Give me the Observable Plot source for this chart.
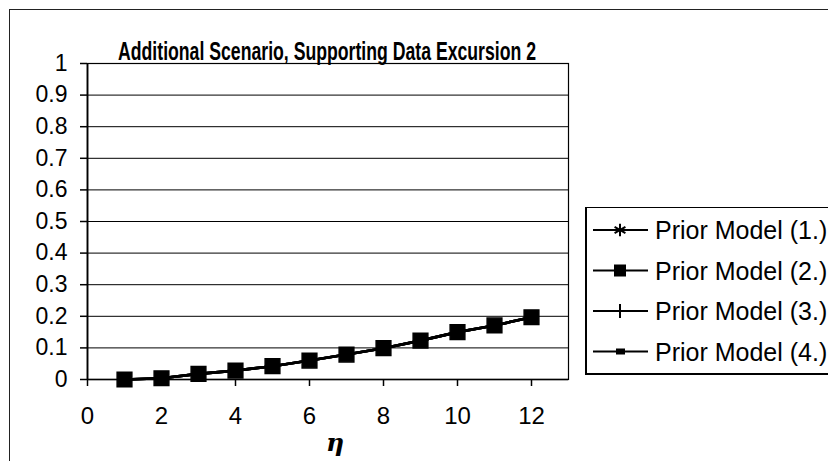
<!DOCTYPE html>
<html>
<head>
<meta charset="utf-8">
<script src="https://cdn.jsdelivr.net/npm/d3@7"></script>
<script src="https://cdn.jsdelivr.net/npm/@observablehq/plot@0.6"></script>
<style>
  html, body { margin: 0; padding: 0; background: #fff; overflow: hidden; }
  #wrap { position: relative; width: 828px; height: 461px; overflow: hidden; font-family: "Liberation Sans", Arial, sans-serif; }
  #outer { position: absolute; left: 9px; top: 9px; width: 840px; height: 470px; border: 1px solid #222; box-sizing: border-box; }
  #legend { position: absolute; left: 585px; top: 207px; width: 260px; height: 168px; border: 1px solid #000; border-left-width: 2px; border-bottom-width: 2px; box-sizing: border-box; background: #fff; }
  #legend svg { display: block; }
</style>
</head>
<body>
<div id="wrap">
  <div id="outer"></div>
  <div id="chart"></div>
  <div id="legend"></div>
</div>
<script>
// ---- data ----
const eta = [1, 2, 3, 4, 5, 6, 7, 8, 9, 10, 11, 12];
const model1 = [0.000, 0.004, 0.018, 0.028, 0.042, 0.060, 0.079, 0.099, 0.123, 0.150, 0.171, 0.197];
const model2 = [0.000, 0.004, 0.018, 0.028, 0.042, 0.060, 0.079, 0.099, 0.123, 0.150, 0.171, 0.197];
const model3 = [0.000, 0.004, 0.018, 0.028, 0.042, 0.060, 0.079, 0.099, 0.123, 0.150, 0.171, 0.197];
const model4 = [0.000, 0.004, 0.018, 0.028, 0.042, 0.060, 0.079, 0.099, 0.123, 0.150, 0.171, 0.197];
const seriesNames = ["Prior Model (1.)", "Prior Model (2.)", "Prior Model (3.)", "Prior Model (4.)"];
const xTicks = [0, 2, 4, 6, 8, 10, 12];
const yTicks = [0, 0.1, 0.2, 0.3, 0.4, 0.5, 0.6, 0.7, 0.8, 0.9, 1];
const yTickLabels = ["0", "0.1", "0.2", "0.3", "0.4", "0.5", "0.6", "0.7", "0.8", "0.9", "1"];
const titleText = "Additional Scenario, Supporting Data Excursion 2";
const xLabel = "η";

const allSeries = [model1, model2, model3, model4];
const rows = [];
allSeries.forEach((vals, i) => vals.forEach((v, j) => rows.push({series: seriesNames[i], eta: eta[j], value: v})));
const rowsOf = name => rows.filter(r => r.series === name);

const font = "Liberation Sans, Arial, sans-serif";
const yFmt = d => yTickLabels[yTicks.findIndex(t => Math.abs(t - d) < 1e-9)];

const chart = Plot.plot({
  width: 828,
  height: 461,
  marginLeft: 87,
  marginRight: 260,
  marginTop: 63,
  marginBottom: 82,
  style: {fontFamily: font, fontSize: "23px", color: "#000", background: "transparent", overflow: "visible"},
  x: {domain: [0, 13], label: null},
  y: {domain: [0, 1], label: null},
  marks: [
    Plot.ruleY(yTicks.filter(t => t > 0 && t < 1), {stroke: "#000", strokeWidth: 1}),
    Plot.frame({stroke: "#000", strokeWidth: 1.2}),
    Plot.axisX({ticks: xTicks, tickSize: 7, tickPadding: 20, label: null, stroke: "#000", fill: "#000", fontSize: 24, tickFormat: d => String(d), strokeWidth: 1.5}),
    Plot.axisY({ticks: yTicks, tickSize: 7, tickPadding: 13, label: null, stroke: "#000", fill: "#000", fontSize: 23, tickFormat: yFmt, strokeWidth: 1.5}),
    Plot.ruleY([0], {stroke: "#000", strokeWidth: 1.5}),
    Plot.ruleX([0], {stroke: "#000", strokeWidth: 1.8}),
    Plot.line(rowsOf(seriesNames[0]), {x: "eta", y: "value", stroke: "#000", strokeWidth: 2.7}),
    Plot.line(rowsOf(seriesNames[2]), {x: "eta", y: "value", stroke: "#000", strokeWidth: 2.7}),
    Plot.line(rowsOf(seriesNames[3]), {x: "eta", y: "value", stroke: "#000", strokeWidth: 2.7}),
    Plot.line(rowsOf(seriesNames[1]), {x: "eta", y: "value", stroke: "#000", strokeWidth: 2.7}),
    Plot.dot(rowsOf(seriesNames[0]), {x: "eta", y: "value", symbol: "asterisk", r: 4, stroke: "#000"}),
    Plot.dot(rowsOf(seriesNames[2]), {x: "eta", y: "value", symbol: "plus", r: 4, stroke: "#000"}),
    Plot.dot(rowsOf(seriesNames[3]), {x: "eta", y: "value", symbol: "square", r: 2.5, fill: "#000"}),
    Plot.dot(rowsOf(seriesNames[1]), {x: "eta", y: "value", symbol: "square", r: 8.3, fill: "#000", stroke: "#000"}),
    Plot.text([titleText], {frameAnchor: "top", text: d => d, dy: -21, dx: -1, fontWeight: "bold", fontSize: 25, fill: "#000", className: "ttl"}),
    Plot.text([xLabel], {frameAnchor: "bottom", text: d => d, dy: 71, dx: 7, fontStyle: "italic", fontWeight: "bold", fontSize: 25, fill: "#000", fontFamily: "DejaVu Serif, serif"})
  ]
});
chart.style.position = "absolute";
chart.style.left = "0px";
chart.style.top = "0px";
document.getElementById("chart").appendChild(chart);
// condense the title to the reference's width
d3.select(chart).selectAll("g.ttl text").attr("textLength", 418).attr("lengthAdjust", "spacingAndGlyphs");

// ---- legend ----
const legend = d3.select("#legend").append("svg").attr("width", 258).attr("height", 166);
seriesNames.forEach((name, i) => {
  const g = legend.append("g").attr("transform", `translate(0, ${22 + i * 40.5})`);
  g.append("line").attr("x1", 6).attr("x2", 61).attr("y1", 0).attr("y2", 0).attr("stroke", "#000").attr("stroke-width", 2);
  if (i === 0) {
    g.append("path").attr("d", d3.symbol(d3.symbolAsterisk, 110)()).attr("transform", "translate(33,0)").attr("stroke", "#000").attr("stroke-width", 2).attr("fill", "none");
  } else if (i === 1) {
    g.append("rect").attr("x", 27).attr("y", -6).attr("width", 12).attr("height", 12).attr("fill", "#000");
  } else if (i === 2) {
    g.append("line").attr("x1", 33).attr("x2", 33).attr("y1", -7).attr("y2", 7).attr("stroke", "#000").attr("stroke-width", 2);
  } else {
    g.append("rect").attr("x", 29).attr("y", -3).attr("width", 9).attr("height", 6).attr("fill", "#000");
  }
  g.append("text").attr("x", 68).attr("y", 0).attr("dy", "0.36em").attr("font-size", 25).attr("font-family", font).attr("fill", "#000").text(name);
});
</script>
</body>
</html>
